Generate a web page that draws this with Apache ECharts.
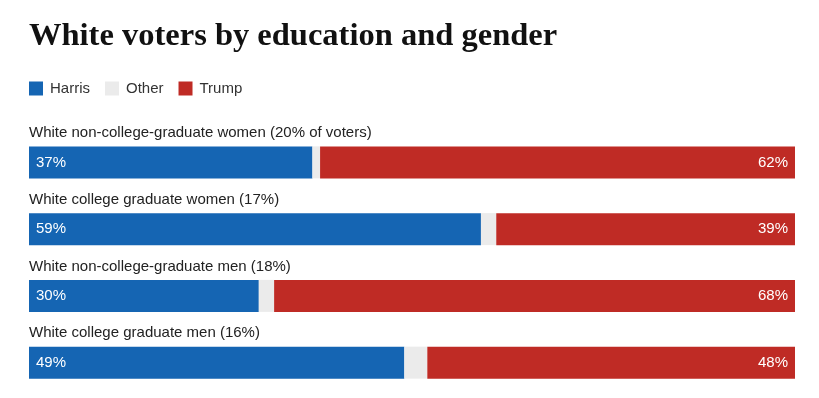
<!DOCTYPE html>
<html>
<head>
<meta charset="utf-8">
<script src="https://cdn.jsdelivr.net/npm/echarts@6/dist/echarts.min.js"></script>
<style>
  html, body { margin: 0; padding: 0; background: #fff; }
  #chart { width: 819px; height: 398px; }
</style>
</head>
<body>
<div id="chart"></div>
<script>
// groups, top to bottom
var groups = [
  'White non-college-graduate women (20% of voters)',
  'White college graduate women (17%)',
  'White non-college-graduate men (18%)',
  'White college graduate men (16%)'
];
var harris = [37, 59, 30, 49];
var other = [1, 2, 2, 3];
var trump = [62, 39, 68, 48];

var chart = echarts.init(document.getElementById('chart'));

var sansFont = '"Liberation Sans", Arial, sans-serif';

chart.setOption({
  backgroundColor: '#ffffff',
  animation: false,
  color: ['#1565b3', '#ebebeb', '#bf2b25'],
  title: {
    text: 'White voters by education and gender',
    left: 29,
    top: 20,
    padding: 0,
    textStyle: {
      fontFamily: '"Liberation Serif", "DejaVu Serif", serif',
      fontWeight: 'bold',
      fontSize: 32.5,
      color: '#111'
    }
  },
  legend: {
    left: 29,
    top: 81,
    padding: 0,
    icon: 'rect',
    itemWidth: 14,
    itemHeight: 14,
    itemGap: 15,
    textStyle: {
      fontFamily: sansFont,
      fontSize: 15,
      color: '#333',
      padding: [0, 0, 0, 2]
    },
    data: ['Harris', 'Other', 'Trump']
  },
  grid: {
    left: 29,
    right: 24,
    top: 129,
    bottom: 2,
    containLabel: false
  },
  xAxis: {
    type: 'value',
    min: 0,
    max: 100,
    show: false
  },
  yAxis: {
    type: 'category',
    inverse: true,
    data: groups,
    axisLine: { show: false },
    axisTick: { show: false },
    splitLine: { show: false },
    axisLabel: {
      inside: true,
      margin: 0,
      align: 'left',
      verticalAlign: 'bottom',
      padding: [0, 0, 22, 0],
      fontFamily: sansFont,
      fontSize: 15,
      color: '#222'
    }
  },
  series: [
    {
      name: 'Harris',
      type: 'bar',
      stack: 'vote',
      barWidth: 32,
      data: harris,
      label: {
        show: true,
        position: 'insideLeft',
        distance: 7,
        formatter: '{c}%',
        fontFamily: sansFont,
        fontSize: 15,
        color: '#fff'
      }
    },
    {
      name: 'Other',
      type: 'bar',
      stack: 'vote',
      barWidth: 32,
      data: other
    },
    {
      name: 'Trump',
      type: 'bar',
      stack: 'vote',
      barWidth: 32,
      data: trump,
      label: {
        show: true,
        position: 'insideRight',
        distance: 7,
        formatter: '{c}%',
        fontFamily: sansFont,
        fontSize: 15,
        color: '#fff'
      }
    }
  ]
});
</script>
</body>
</html>
